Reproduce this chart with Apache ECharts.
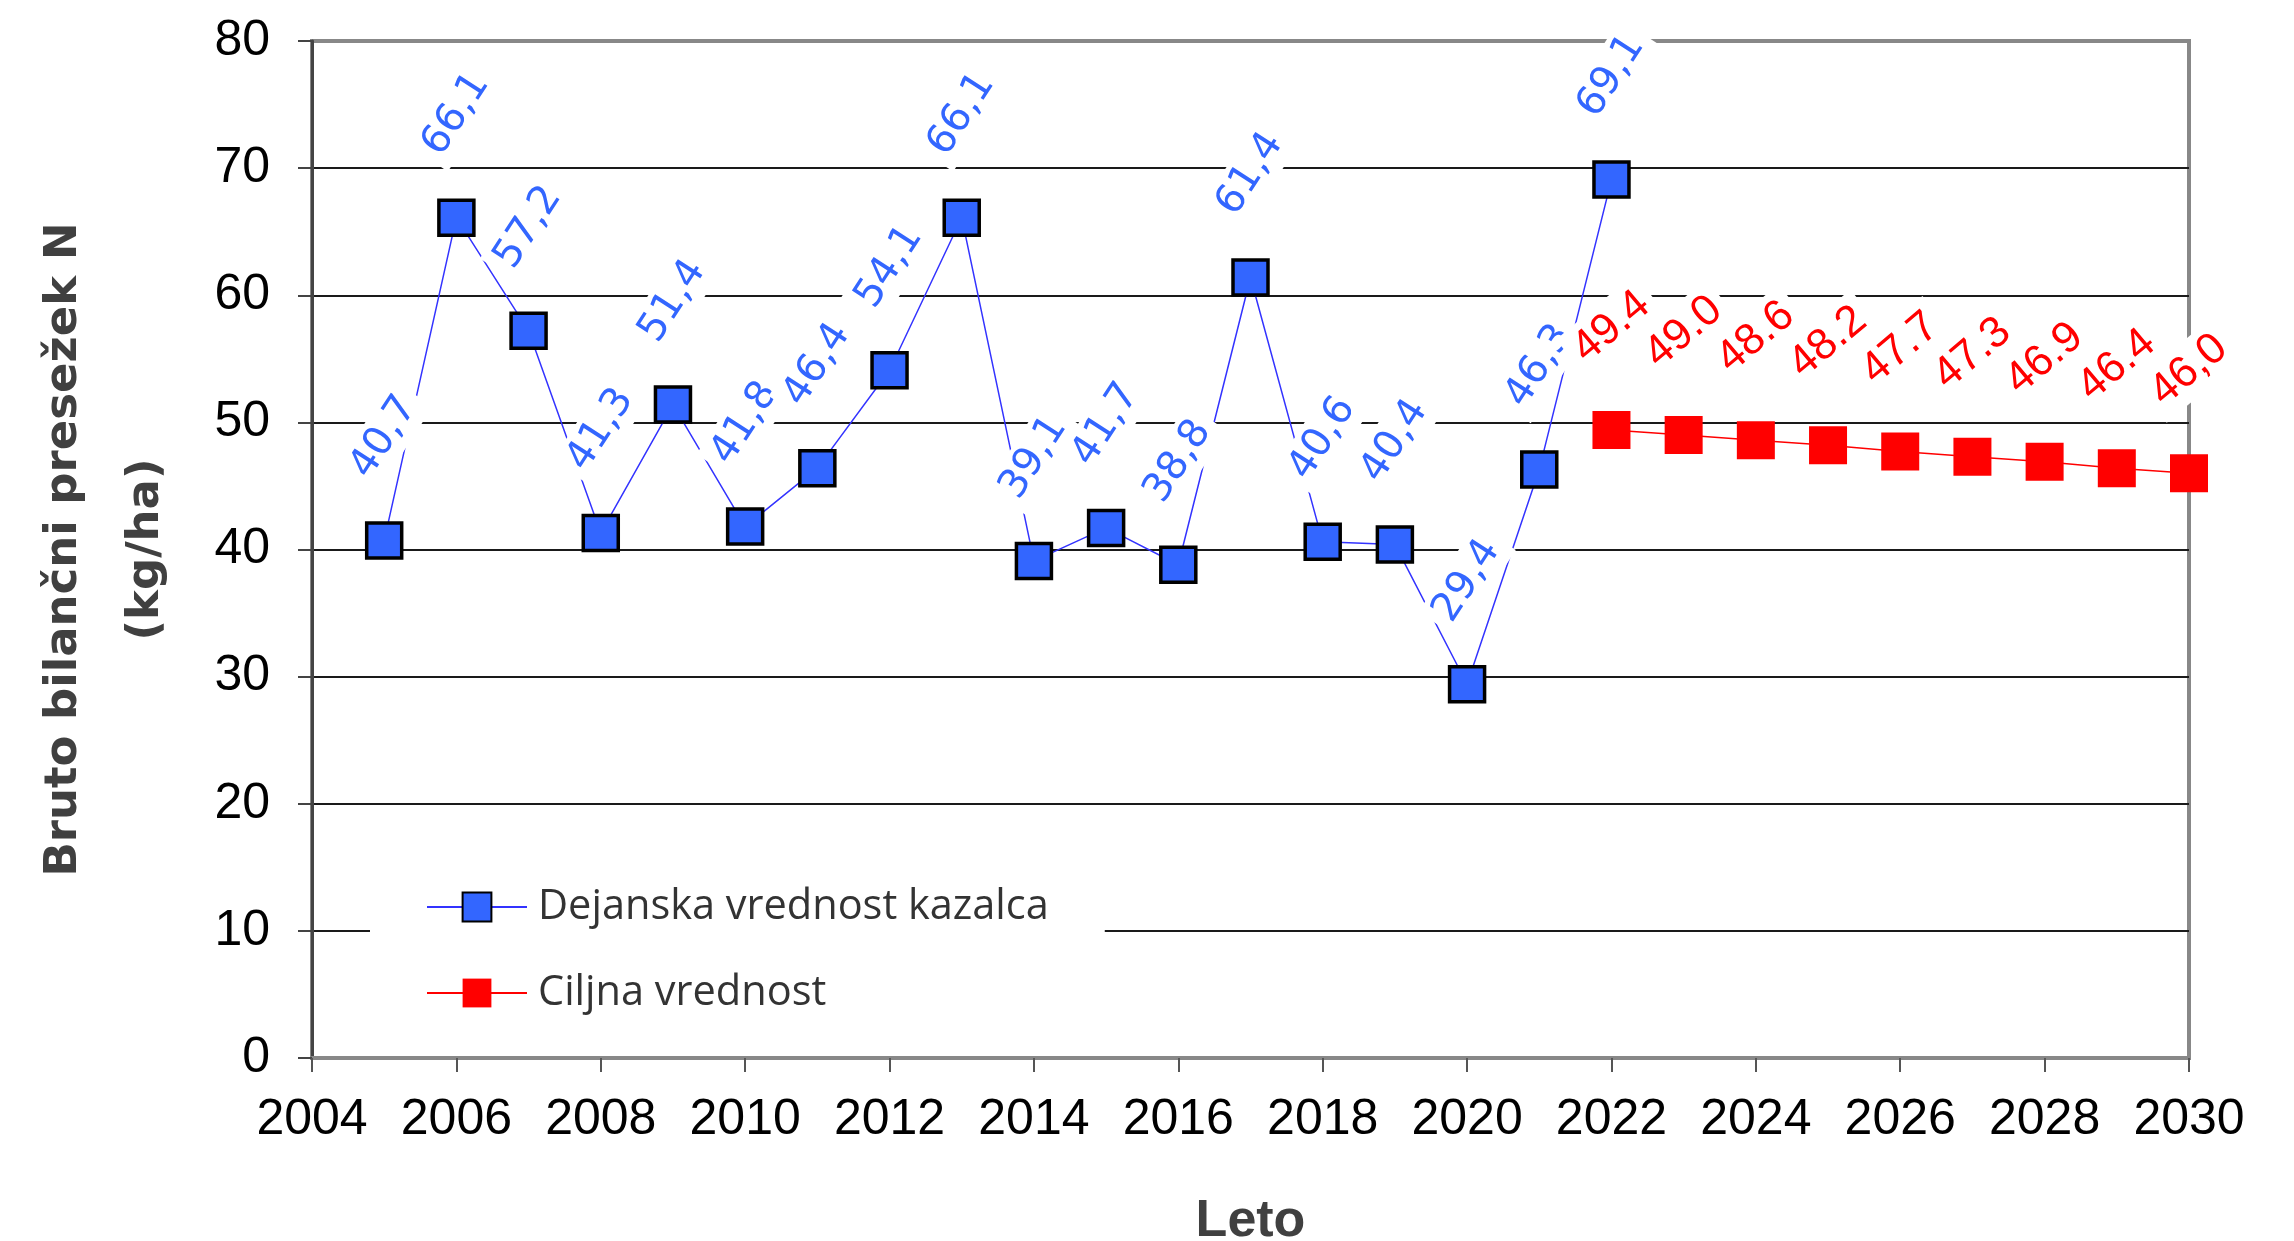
<!DOCTYPE html>
<html>
<head>
<meta charset="utf-8">
<script src="https://cdn.jsdelivr.net/npm/echarts@6/dist/echarts.min.js"></script>
<style>
  html, body { margin: 0; padding: 0; background: #fff; }
  #chart { width: 2294px; height: 1241px; }
</style>
</head>
<body>
<div id="chart"></div>
<script>
  // dejanska vrednost kazalca (kg/ha)
  var actualYears = [2005, 2006, 2007, 2008, 2009, 2010, 2011, 2012, 2013, 2014, 2015, 2016, 2017, 2018, 2019, 2020, 2021, 2022];
  var actualValues = [40.7, 66.1, 57.2, 41.3, 51.4, 41.8, 46.4, 54.1, 66.1, 39.1, 41.7, 38.8, 61.4, 40.6, 40.4, 29.4, 46.3, 69.1];
  var actualLabels = ['40,7', '66,1', '57,2', '41,3', '51,4', '41,8', '46,4', '54,1', '66,1', '39,1', '41,7', '38,8', '61,4', '40,6', '40,4', '29,4', '46,3', '69,1'];

  // ciljna vrednost
  var targetYears = [2022, 2023, 2024, 2025, 2026, 2027, 2028, 2029, 2030];
  var targetValues = [49.4, 49.0, 48.6, 48.2, 47.7, 47.3, 46.9, 46.4, 46.0];
  var targetLabels = ['49.4', '49.0', '48.6', '48.2', '47.7', '47.3', '46.9', '46.4', '46,0'];

  var chart = echarts.init(document.getElementById('chart'));

  function pairs(xs, ys) {
    return xs.map(function (x, i) { return [x, ys[i]]; });
  }

  var option = {
    animation: false,
    backgroundColor: '#fff',
    grid: {
      left: 312, right: 105, top: 41, bottom: 183,
      outerBoundsMode: 'none',
      show: true, borderColor: '#888', borderWidth: 4
    },
    legend: {
      orient: 'vertical',
      left: 370, top: 866,
      itemWidth: 100, itemHeight: 36, itemGap: 44,
      padding: [20, 56, 20, 56],
      backgroundColor: '#fff',
      textStyle: { fontFamily: 'Open Sans', fontSize: 41.5, color: '#333', padding: [0, 0, 0, 6] },
      data: ['Dejanska vrednost kazalca', 'Ciljna vrednost']
    },
    xAxis: {
      type: 'value', min: 2004, max: 2030, interval: 2,
      name: 'Leto', nameLocation: 'middle', nameGap: 138,
      nameTextStyle: { fontFamily: 'Liberation Sans', fontWeight: 'bold', fontSize: 52, color: '#404040' },
      axisLine: { show: true, onZero: false, lineStyle: { color: '#888', width: 4 } },
      axisTick: { show: true, length: 14, lineStyle: { color: '#555', width: 2 } },
      axisLabel: {
        fontFamily: 'Liberation Sans', fontSize: 50, color: '#000', margin: 37,
        formatter: function (v) { return String(v); }
      },
      splitLine: { show: false }
    },
    yAxis: {
      type: 'value', min: 0, max: 80, interval: 10,
      name: 'Bruto bilančni presežek N\n(kg/ha)', nameLocation: 'middle', nameGap: 125, nameRotate: 90,
      nameTextStyle: { fontFamily: 'DejaVu Sans', fontWeight: 'bold', fontSize: 45, color: '#404040', lineHeight: 82 },
      axisLine: { show: true, lineStyle: { color: '#444', width: 3 } },
      axisTick: { show: true, length: 14, lineStyle: { color: '#444', width: 2 } },
      axisLabel: { fontFamily: 'Liberation Sans', fontSize: 50, color: '#000', margin: 42 },
      splitLine: {
        show: true,
        lineStyle: { color: ['#888', '#1a1a1a', '#1a1a1a', '#1a1a1a', '#1a1a1a', '#1a1a1a', '#1a1a1a', '#1a1a1a', '#888'], width: 2 }
      }
    },
    series: [
      {
        name: 'Dejanska vrednost kazalca',
        type: 'line',
        data: pairs(actualYears, actualValues),
        symbol: 'rect', symbolSize: 35,
        itemStyle: { color: '#3366ff', borderColor: '#000', borderWidth: 3.5 },
        lineStyle: { color: '#3333ff', width: 1.5 },
        label: {
          show: true, position: 'top', distance: 84, rotate: 57,
          align: 'center', verticalAlign: 'middle',
          fontFamily: 'DejaVu Sans', fontSize: 40, color: '#3366ff',
          backgroundColor: '#fff', padding: [4, 8],
          formatter: function (p) { return actualLabels[p.dataIndex]; }
        },
        emphasis: { disabled: true }
      },
      {
        name: 'Ciljna vrednost',
        type: 'line',
        data: pairs(targetYears, targetValues),
        symbol: 'rect', symbolSize: 38,
        itemStyle: { color: '#ff0000' },
        lineStyle: { color: '#ff0000', width: 1.5 },
        label: {
          show: true, position: 'top', distance: 84, rotate: 40,
          align: 'center', verticalAlign: 'middle',
          fontFamily: 'Liberation Sans', fontSize: 44, color: '#ff0000',
          backgroundColor: '#fff', padding: [4, 8],
          formatter: function (p) { return targetLabels[p.dataIndex]; }
        },
        emphasis: { disabled: true }
      }
    ]
  };

  chart.setOption(option);
</script>
</body>
</html>
